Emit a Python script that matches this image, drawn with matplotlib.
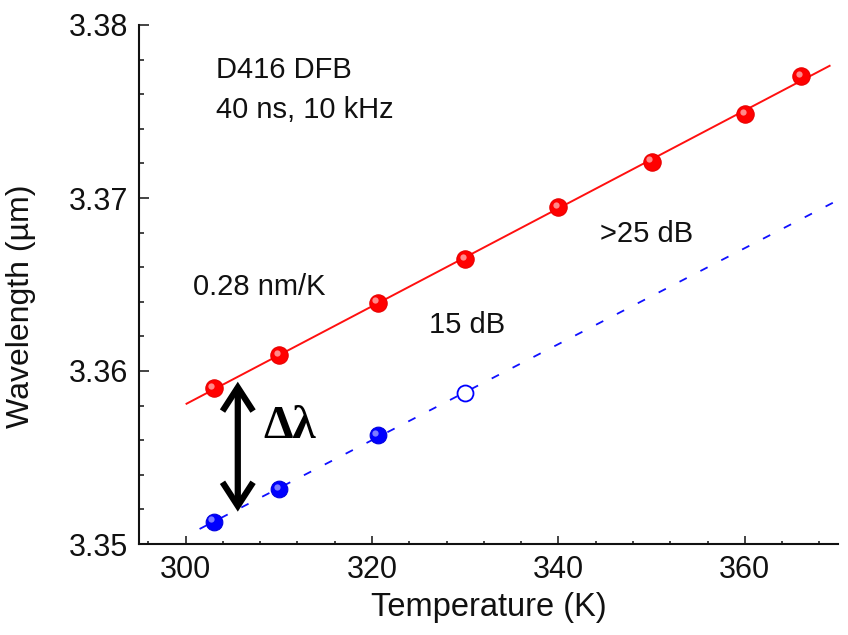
import numpy as np
import matplotlib
matplotlib.use("Agg")
import matplotlib.pyplot as plt
import matplotlib.transforms as mtransforms
from matplotlib.ticker import MultipleLocator

# ---- data ----
red_T = [303, 310, 320.6, 330, 340, 350, 360, 366]
red_wl = [3.3590, 3.3609, 3.36395, 3.36647, 3.36946, 3.37210, 3.37486, 3.37705]
blue_T = [303, 310, 320.6]
blue_wl = [3.35129, 3.35316, 3.35630]
open_T = [330]
open_wl = [3.35871]
red_fit_range = [300.1, 369.1]
blue_fit_range = [301.5, 370.0]
arrow_T = 305.6
arrow_wl = [3.35938, 3.35187]

xlim = (295, 370)
ylim = (3.35, 3.38)
xticks = [300, 320, 340, 360]
yticks = [3.35, 3.36, 3.37, 3.38]

plt.rcParams['font.family'] = ['Liberation Sans', 'DejaVu Sans']

fig = plt.figure(figsize=(8.48, 6.35), dpi=100)
ax = fig.add_axes([139/848, 1-544/635, 699/848, 519/635])

# fit lines
pr = np.polyfit(red_T, red_wl, 1)
xr = np.array(red_fit_range)
ax.plot(xr, np.polyval(pr, xr), color='#ff1010', lw=1.4, zorder=2)

bT = blue_T + open_T
bW = blue_wl + open_wl
pb = np.polyfit(bT, bW, 1)
xb = np.array(blue_fit_range)
ln, = ax.plot(xb, np.polyval(pb, xb), color='#1010ff', lw=1.3, zorder=2)
ln.set_dashes([4.5, 8.5])

# markers
hl = mtransforms.offset_copy(ax.transData, fig=fig, x=-2.2, y=2.2, units='dots')
ax.plot(red_T, red_wl, 'o', ms=12.5, mfc='#ff0000', mec='#e80000', mew=0.8, zorder=3, ls='none')
ax.plot(red_T, red_wl, 'o', ms=4.5, mfc='#ff9a9a', mec='none', alpha=0.9, zorder=4, ls='none', transform=hl)
ax.plot(blue_T, blue_wl, 'o', ms=12, mfc='#0000ff', mec='#0000e0', mew=0.8, zorder=3, ls='none')
ax.plot(blue_T, blue_wl, 'o', ms=4.5, mfc='#8c8cff', mec='none', alpha=0.9, zorder=4, ls='none', transform=hl)
ax.plot(open_T, open_wl, 'o', ms=11.5, mfc='white', mec='#0000ff', mew=1.3, zorder=3, ls='none')

# double arrow
ax.annotate('', xy=(arrow_T, arrow_wl[1]), xytext=(arrow_T, arrow_wl[0]),
            arrowprops=dict(arrowstyle='<->,head_length=1.7,head_width=1.1',
                            color='black', lw=4.5, shrinkA=0, shrinkB=0,
                            joinstyle='miter', capstyle='butt'), zorder=5)

# texts
fs = 21
def px(xp, yp):
    return (xp/848, 1 - yp/635)
fig.text(*px(216, 70), 'D416 DFB', fontsize=fs, ha='left', va='center', color='#111111')
fig.text(*px(216, 110), '40 ns, 10 kHz', fontsize=fs, ha='left', va='center', color='#111111')
fig.text(*px(193, 287), '0.28 nm/K', fontsize=fs, ha='left', va='center', color='#111111')
fig.text(*px(429, 325), '15 dB', fontsize=fs, ha='left', va='center', color='#111111')
fig.text(*px(600, 234), '>25 dB', fontsize=fs, ha='left', va='center', color='#111111')
fig.text(*px(290, 427), 'Δλ', fontsize=34, ha='center', va='center', color='black',
         family=['Liberation Serif', 'DejaVu Serif'], fontweight='bold')

ax.set_xlim(*xlim)
ax.set_ylim(*ylim)
ax.set_xticks(xticks)
ax.set_yticks(yticks)
ax.set_yticklabels([f'{v:.2f}' for v in yticks])
ax.xaxis.set_minor_locator(MultipleLocator(4))
ax.yaxis.set_minor_locator(MultipleLocator(0.002))

for s in ['top', 'right']:
    ax.spines[s].set_visible(False)
for s in ['left', 'bottom']:
    ax.spines[s].set_linewidth(1.5)
    ax.spines[s].set_color('#111111')

ax.tick_params(axis='both', which='both', direction='in', labelsize=22, colors='#111111', width=1.1)
ax.tick_params(axis='y', which='major', length=7.2, pad=8, direction='in')
ax.tick_params(axis='y', which='minor', length=3.6, direction='in')
ax.tick_params(axis='x', which='major', length=6, pad=8, direction='in')
ax.tick_params(axis='x', which='minor', length=2.4, direction='in')

ax.set_xlabel('Temperature (K)', fontsize=23.5, color='#111111')
ax.set_ylabel('Wavelength (µm)', fontsize=23, color='#111111')
ax.xaxis.set_label_coords(0.5, -0.093)
ax.yaxis.set_label_coords(-0.147, 0.459)

fig.savefig('out.png', dpi=100)
